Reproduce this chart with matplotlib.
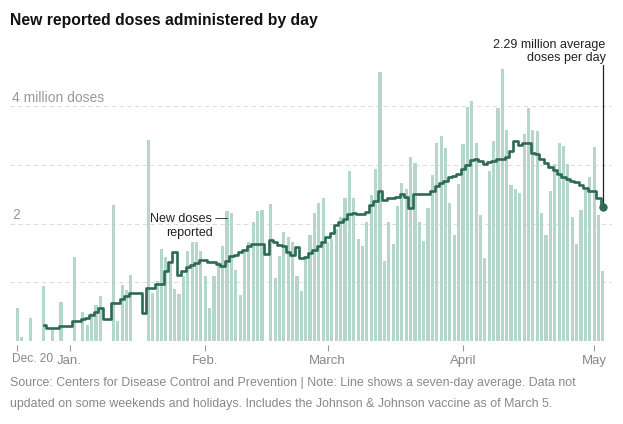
import pandas as pd
import matplotlib.pyplot as plt

plt.rcParams['font.family'] = ['Liberation Sans', 'DejaVu Sans']

# daily new doses reported, in millions (0 = nothing reported that day)
start = "2020-12-20"
doses = [
    0.56, 0.06, 0, 0.40, 0, 0, 0.94, 0, 0.18, 0,
    0.66, 0, 0, 1.43, 0, 0.49, 0.27, 0.47, 0.61, 0.77,
    0, 0, 2.31, 0.34, 0.95, 0.87, 1.13, 0, 0, 0,
    3.43, 0.82, 1.02, 1.56, 1.43, 1.32, 0.88, 0.80, 1.11, 1.54,
    1.69, 1.69, 1.54, 1.10, 0.56, 1.10, 1.35, 1.62, 2.22, 2.18,
    1.21, 0.78, 1.55, 1.69, 2.02, 2.22, 2.24, 0, 2.34, 1.07,
    1.45, 1.85, 1.78, 1.69, 1.10, 0.86, 1.41, 1.81, 2.18, 2.35,
    2.43, 1.68, 1.73, 1.90, 2.12, 2.43, 2.90, 2.43, 1.74, 1.61,
    2.02, 2.49, 2.93, 4.58, 1.36, 2.02, 1.65, 2.30, 2.69, 2.59,
    3.13, 3.04, 2.02, 1.70, 2.26, 2.83, 3.38, 3.49, 3.28, 2.35,
    1.80, 2.68, 3.36, 3.98, 4.09, 3.37, 2.14, 1.41, 2.89, 3.41,
    3.97, 4.64, 3.59, 2.65, 2.59, 2.52, 3.53, 3.97, 3.60, 3.57,
    2.18, 1.81, 2.56, 3.01, 3.38, 3.32, 3.01, 2.12, 1.65, 2.23,
    2.57, 2.80, 3.30, 2.14, 1.20,
]

# seven-day average, in millions, from Dec. 26
avg_start = "2020-12-26"
avg = [
    0.28, 0.22, 0.22, 0.22, 0.26, 0.26, 0.26, 0.34, 0.34, 0.37,
    0.40, 0.44, 0.49, 0.57, 0.37, 0.37, 0.64, 0.64, 0.71, 0.77,
    0.81, 0.81, 0.81, 0.47, 0.91, 0.90, 0.97, 0.97, 1.19, 1.35,
    1.51, 1.13, 1.20, 1.26, 1.30, 1.33, 1.38, 1.38, 1.35, 1.35,
    1.31, 1.28, 1.36, 1.44, 1.47, 1.51, 1.55, 1.61, 1.66, 1.66,
    1.66, 1.49, 1.72, 1.68, 1.64, 1.61, 1.52, 1.47, 1.60, 1.41,
    1.43, 1.50, 1.55, 1.61, 1.68, 1.78, 1.84, 1.98, 2.02, 2.07,
    2.16, 2.18, 2.17, 2.16, 2.20, 2.31, 2.38, 2.55, 2.40, 2.44,
    2.44, 2.46, 2.51, 2.46, 2.26, 2.51, 2.50, 2.50, 2.50, 2.55,
    2.64, 2.70, 2.73, 2.79, 2.81, 2.84, 2.93, 3.00, 3.09, 3.10,
    3.06, 3.02, 3.05, 3.07, 3.10, 3.10, 3.14, 3.23, 3.40, 3.34,
    3.37, 3.37, 3.21, 3.19, 3.10, 3.04, 2.97, 2.91, 2.84, 2.79,
    2.76, 2.73, 2.71, 2.66, 2.61, 2.56, 2.55, 2.43, 2.29,
]

tick_dates = ["2020-12-20", "2021-01-01", "2021-02-01", "2021-03-01", "2021-04-01", "2021-05-01"]
tick_labels = ["Dec. 20", "Jan.", "Feb.", "March", "April", "May"]
grid_vals = [1, 2, 3, 4]

days = pd.date_range(start, periods=len(doses), freq="D")
avg_days = pd.date_range(avg_start, periods=len(avg), freq="D")

bar_color = "#b5d6cb"
line_color = "#2d6a55"
gray = "#999999"

fig = plt.figure(figsize=(6.23, 4.24), dpi=100)
ax = fig.add_axes([10 / 623, 83 / 424, 602 / 623, 281 / 424])

for g in grid_vals:
    ax.axhline(g, color="#dddddd", lw=0.8, ls=(0, (4, 3)), zorder=0)

ax.bar(days, doses, width=0.72, color=bar_color, zorder=1)
ax.step(avg_days, avg, where="mid", color=line_color, lw=1.9, zorder=3)
ax.plot(avg_days[-1], avg[-1], "o", color=line_color, ms=5, zorder=4)

ax.axhline(0, color="#cccccc", lw=0.8, zorder=2)

t0 = pd.Timestamp(start)
ax.set_xlim(t0 - pd.Timedelta(days=1.67), t0 + pd.Timedelta(days=136.1))
ax.set_ylim(0, 281 / 58.7)

# first label sits left-aligned at the edge, the rest are centred under their ticks
ax.set_xticks(pd.to_datetime(tick_dates))
ax.set_xticklabels([""] + tick_labels[1:])
ax.tick_params(axis="x", length=4, width=0.8, color="#999999", labelcolor="#888888",
               labelsize=9.5, pad=3)
xtr = ax.get_xaxis_transform()
ax.text(t0 - pd.Timedelta(days=1.2), -17.5 / 281, tick_labels[0], transform=xtr,
        color="#888888", fontsize=8.6, ha="left", va="center")

ax.set_yticks([])
for s in ax.spines.values():
    s.set_visible(False)
ax.spines["bottom"].set_position(("outward", 3))

ytr = ax.get_yaxis_transform()
ax.text(0.004, 4.07, "4 million doses", transform=ytr, color=gray, fontsize=10, va="baseline")
ax.text(0.004, 2.07, "2", transform=ytr, color=gray, fontsize=10, va="baseline")

# annotations
ax.text(t0 + pd.Timedelta(days=39.3), 1.96, "New doses \u2014\nreported",
        ha="center", va="center", fontsize=9, color="#222222", linespacing=1.15)

ax.plot([avg_days[-1], avg_days[-1]], [avg[-1], 4.7], color="#222222", lw=0.9, clip_on=False)
ax.text(avg_days[-1] + pd.Timedelta(days=0.6), 4.72, "2.29 million average\ndoses per day",
        ha="right", va="bottom", fontsize=9, color="#222222", linespacing=1.1)

fig.text(10 / 623, 1 - 20 / 424, "New reported doses administered by day",
         fontsize=11.3, fontweight="bold", color="#121212", va="center",
         family=["Liberation Sans Narrow", "Liberation Sans"])

fig.text(10 / 623, 1 - 383 / 424,
         "Source: Centers for Disease Control and Prevention | Note: Line shows a seven-day average. Data not",
         fontsize=8.95, color="#888888", va="center")
fig.text(10 / 623, 1 - 404 / 424,
         "updated on some weekends and holidays. Includes the Johnson & Johnson vaccine as of March 5.",
         fontsize=8.95, color="#888888", va="center")

fig.savefig("out.png", dpi=100)
